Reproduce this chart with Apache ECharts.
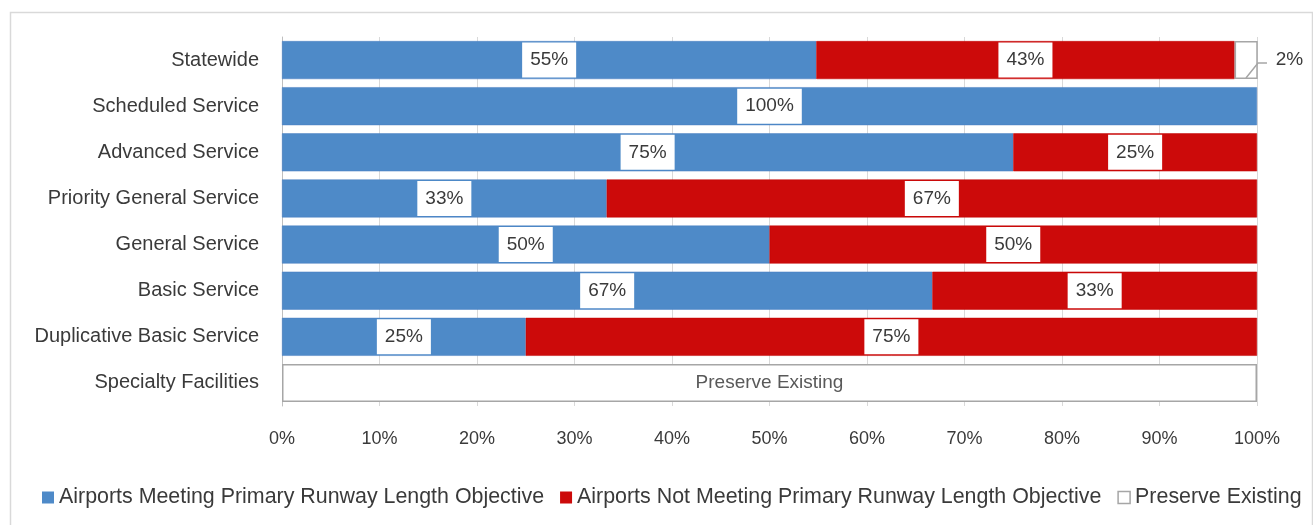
<!DOCTYPE html>
<html>
<head>
<meta charset="utf-8">
<script src="https://cdn.jsdelivr.net/npm/echarts@6/dist/echarts.min.js"></script>
<style>
html,body{margin:0;padding:0;background:#fff;}
#chart{width:1313px;height:525px;}
</style>
</head>
<body>
<div id="chart"></div>
<script>
const categories = ['Statewide','Scheduled Service','Advanced Service','Priority General Service','General Service','Basic Service','Duplicative Basic Service','Specialty Facilities'];
const meeting = [54.8, 100, 75, 33.3, 50, 66.7, 25, '-'];
const notMeeting = [42.9, '-', 25, 66.7, 50, 33.3, 75, '-'];
const preserve = [2.4, '-', '-', '-', '-', '-', '-', 100];
const preserveLabels = ['2%', '', '', '', '', '', '', 'Preserve Existing'];
const xTicks = [0,10,20,30,40,50,60,70,80,90,100];
const seriesNames = ['Airports Meeting Primary Runway Length Objective','Airports Not Meeting Primary Runway Length Objective','Preserve Existing'];

const FONT = 'Liberation Sans';
const TXT = '#3a3a3a';
const boxLabel = {
  show: true, position: 'inside', color: TXT, fontFamily: FONT, fontSize: 19,
  backgroundColor: '#fff', padding: [9, 8, 7, 8],
  formatter: p => Math.round(p.value) + '%'
};

const chart = echarts.init(document.getElementById('chart'));
chart.setOption({
  animation: false,
  grid: {left: 282, right: 56, top: 37, bottom: 119},
  legend: {
    left: 42, top: 487, padding: 0, itemWidth: 12, itemHeight: 12, itemGap: 16,
    textStyle: {fontFamily: FONT, fontSize: 21.4, color: TXT},
    data: [
      {name: seriesNames[0], icon: 'rect', itemStyle: {borderWidth: 0}},
      {name: seriesNames[1], icon: 'rect', itemStyle: {borderWidth: 0}},
      {name: seriesNames[2], icon: 'rect', itemStyle: {color: '#fff', borderColor: '#a6a6a6', borderWidth: 1.5}}
    ]
  },
  xAxis: {
    type: 'value', min: 0, max: 100, interval: 10,
    axisLine: {show: false}, axisTick: {show: false},
    splitLine: {lineStyle: {color: '#d9d9d9', width: 1}},
    axisLabel: {
      margin: 24, color: TXT, fontFamily: FONT, fontSize: 18,
      formatter: v => (xTicks.indexOf(v) >= 0 ? v + '%' : '')
    }
  },
  yAxis: {
    type: 'category', data: categories, inverse: true,
    axisLine: {lineStyle: {color: '#bfbfbf'}}, axisTick: {show: false},
    axisLabel: {margin: 23, color: TXT, fontFamily: FONT, fontSize: 20}
  },
  series: [
    {
      name: seriesNames[0], type: 'bar', stack: 'total', barWidth: 38,
      data: meeting,
      itemStyle: {color: '#4e8ac8', borderColor: '#4a7fc0', borderWidth: 0.5},
      label: boxLabel
    },
    {
      name: seriesNames[1], type: 'bar', stack: 'total', barWidth: 38,
      data: notMeeting,
      itemStyle: {color: '#cc0a0a', borderColor: '#c00000', borderWidth: 0.5},
      label: boxLabel
    },
    {
      name: seriesNames[2], type: 'bar', stack: 'total', barWidth: 38,
      data: preserve.map((v, i) => {
        if (v === '-') return v;
        if (i === 0) {
          return {
            value: v,
            label: {
              show: true, position: 'right', distance: 18, color: TXT, fontFamily: FONT, fontSize: 19,
              padding: [4, 0, 0, 0], formatter: preserveLabels[i]
            }
          };
        }
        return {
          value: v,
          label: {
            show: true, position: 'inside', color: '#595959', fontFamily: FONT, fontSize: 19,
            backgroundColor: '#fff', padding: [7, 4, 5, 4],
            formatter: preserveLabels[i]
          }
        };
      }),
      itemStyle: {color: '#fff', borderColor: '#a6a6a6', borderWidth: 1.5}
    }
  ]
});

// Leader line for the small "2%" segment, positioned through the chart's own scales
const end = chart.convertToPixel({xAxisIndex: 0, yAxisIndex: 0}, [meeting[0] + notMeeting[0] + preserve[0], categories[0]]);
chart.setOption({
  graphic: [
    {
      type: 'rect', left: 8, top: 10, z: -10, silent: true,
      shape: {width: 1302, height: 540},
      style: {fill: 'none', stroke: '#d9d9d9', lineWidth: 1.5}
    },
    {
      type: 'polyline', z: 100, silent: true,
      shape: {points: [[end[0] - 12, end[1] + 18], [end[0], end[1] + 3], [end[0] + 9, end[1] + 3]]},
      style: {fill: 'none', stroke: '#a6a6a6', lineWidth: 1.5}
    }
  ]
});
</script>
</body>
</html>
